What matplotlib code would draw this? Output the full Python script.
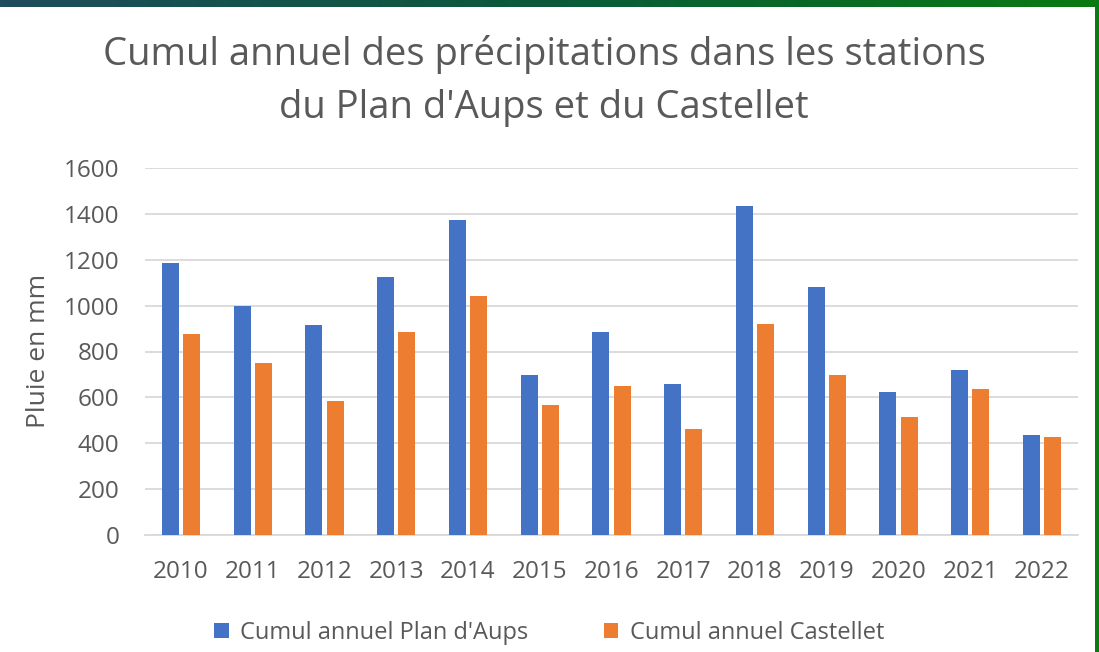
import matplotlib
matplotlib.use("Agg")
import matplotlib.pyplot as plt
import numpy as np

years = ["2010", "2011", "2012", "2013", "2014", "2015", "2016",
         "2017", "2018", "2019", "2020", "2021", "2022"]
plan_aups = [1186, 998, 915, 1125, 1373, 697, 885, 658, 1434, 1081, 623, 720, 437]
castellet = [876, 750, 584, 885, 1042, 567, 650, 462, 920, 697, 514, 636, 428]
yticks = [0, 200, 400, 600, 800, 1000, 1200, 1400, 1600]

plt.rcParams['font.family'] = ['Open Sans', 'DejaVu Sans']
grey = '#595959'
blue = '#4472C4'
orange = '#ED7D31'

fig = plt.figure(figsize=(10.99, 6.52), dpi=100)
fig.patch.set_facecolor('white')

# frame : bandeau en haut + bord vert a droite
band = fig.add_axes([0, 1 - 7/652, 1, 7/652])
grad = np.linspace(0, 1, 256).reshape(1, -1)
cmap = matplotlib.colors.LinearSegmentedColormap.from_list('b', ['#1e4d5c', '#0b5a3a', '#0a7a12'])
band.imshow(grad, aspect='auto', cmap=cmap)
band.axis('off')
right = fig.add_axes([1 - 4/1099, 0, 4/1099, 1])
right.set_facecolor('#0a7a12')
right.set_xticks([]); right.set_yticks([])
for s in right.spines.values():
    s.set_visible(False)

ax = fig.add_axes([145/1099, 1 - 535/652, 933/1099, 367/652])
x = np.arange(len(years))
w = 0.236
ax.bar(x - w/2 - 0.03, plan_aups, w, color=blue, label="Cumul annuel Plan d'Aups", zorder=3)
ax.bar(x + w/2 + 0.03, castellet, w, color=orange, label="Cumul annuel Castellet", zorder=3)

ax.set_xlim(-0.5, len(years) - 0.5)
ax.set_ylim(0, 1600)
ax.set_yticks(yticks)
ax.set_xticks(x)
ax.set_xticklabels(years)
ax.yaxis.grid(True, color='#d9d9d9', linewidth=1.3, zorder=0)
for s in ['top', 'right', 'left']:
    ax.spines[s].set_visible(False)
ax.spines['bottom'].set_color('#d9d9d9')
ax.spines['bottom'].set_linewidth(1.3)
ax.tick_params(axis='both', length=0, colors=grey, labelsize=17.5)
ax.tick_params(axis='y', pad=18.5)
ax.tick_params(axis='x', pad=18)
fig.text(39/1099, 1 - 351/652, "Pluie en mm", rotation=90, ha='center', va='center',
         color=grey, fontsize=19)

fig.text(0.495, 1 - 65/652, "Cumul annuel des précipitations dans les stations",
         ha='center', va='baseline', fontsize=27.5, color=grey)
fig.text(0.495, 1 - 118/652, "du Plan d'Aups et du Castellet",
         ha='center', va='baseline', fontsize=27.5, color=grey)

leg = fig.legend(loc='center', bbox_to_anchor=(549.5/1099, 1 - 633/652), ncol=2, frameon=False,
                 fontsize=17, labelcolor=grey, handlelength=0.6, handleheight=0.6,
                 columnspacing=3.2, handletextpad=0.5)

fig.savefig("out.png", dpi=100)
